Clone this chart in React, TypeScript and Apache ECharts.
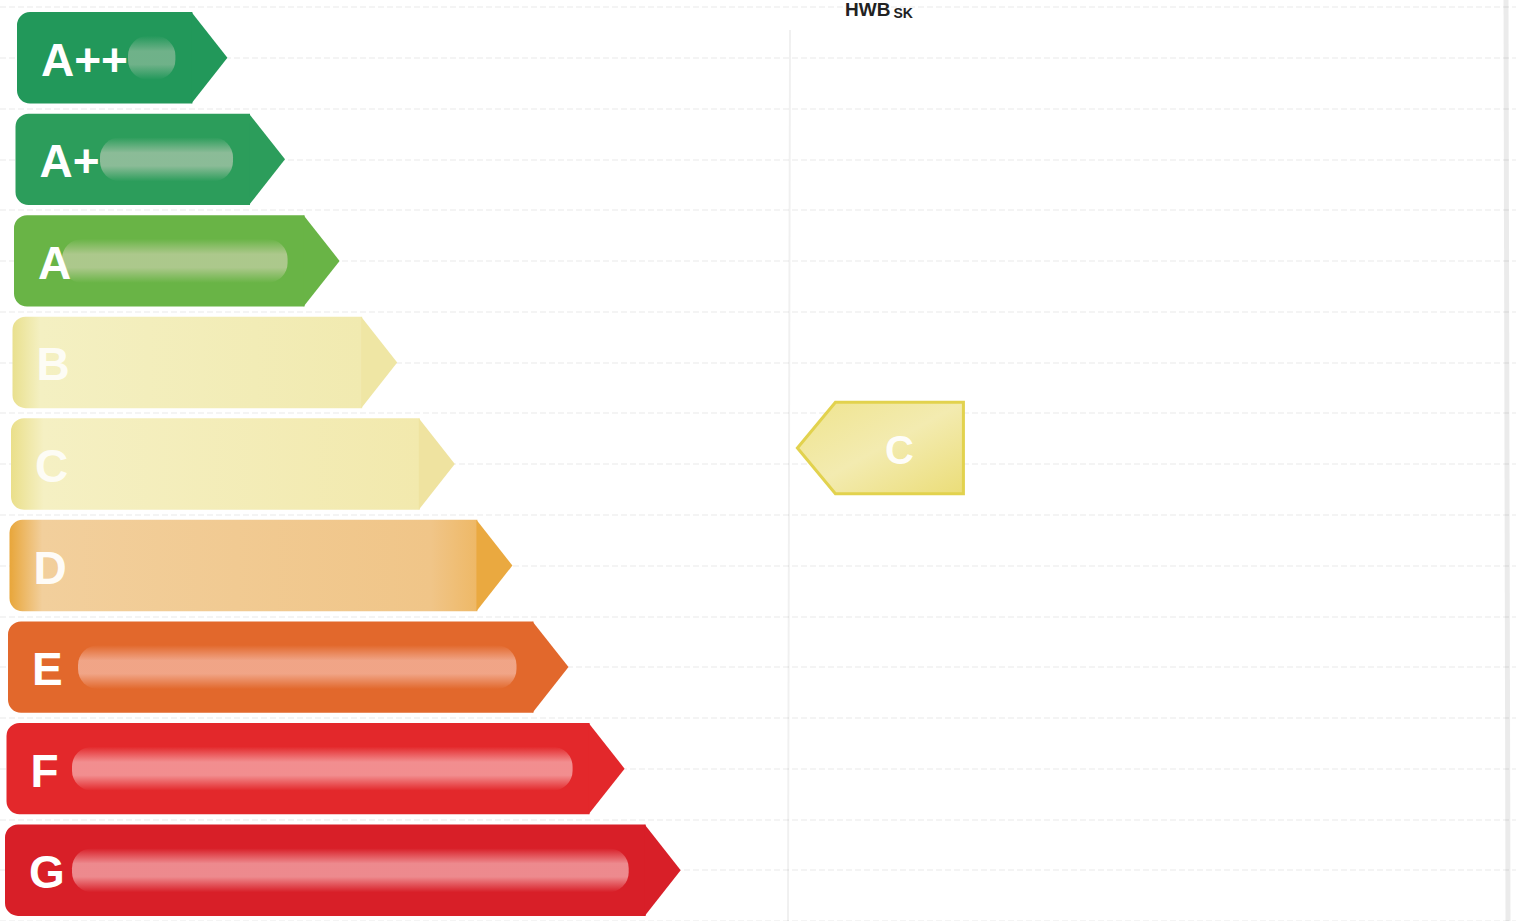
import React, { useEffect, useRef } from "react";
import * as echarts from "echarts";

// Energy classes (top to bottom) and the length of each class arrow (tip position, % of width)
const classes = ["A++", "A+", "A", "B", "C", "D", "E", "F", "G"];
const arrowEnds = [15.0, 18.8, 22.4, 26.2, 30.0, 33.8, 37.5, 41.2, 44.9];
// Rated class and position of the indicator arrow tip (% of width)
const ratedClass = "C";
const ratedTip = [52.6];
const titleMain = "HWB";
const titleSub = "SK";

export default function App() {
  const ref = useRef<HTMLDivElement>(null);

  useEffect(() => {
    document.body.style.margin = "0";
    if (!ref.current) return;
    const chart = echarts.init(ref.current, null, { renderer: "svg" });

    const fills: any[] = [
      "#22985a",
      "#2c9d5b",
      "#69b446",
      new echarts.graphic.LinearGradient(0, 0, 1, 0, [
        { offset: 0, color: "#e9e08e" },
        { offset: 0.08, color: "#f4f0c2" },
        { offset: 1, color: "#f1eab0" },
      ]),
      new echarts.graphic.LinearGradient(0, 0, 1, 0, [
        { offset: 0, color: "#eadf8a" },
        { offset: 0.08, color: "#f5f0c3" },
        { offset: 1, color: "#f2e9ad" },
      ]),
      new echarts.graphic.LinearGradient(0, 0, 1, 0, [
        { offset: 0, color: "#e8a63a" },
        { offset: 0.07, color: "#f2cf9c" },
        { offset: 0.9, color: "#f0c588" },
        { offset: 1, color: "#eeb866" },
      ]),
      "#e2682c",
      "#e3282b",
      "#d81f28",
    ];
    const tipFills = ["#22985a", "#2c9d5b", "#69b446", "#efe6a4", "#efe3a0", "#eaa940", "#e2682c", "#e3282b", "#d81f28"];
    const streakStart = [128, 100, 62, -1, -1, -1, 78, 72, 72];
    const streakAlpha = [0.35, 0.45, 0.45, 0, 0, 0, 0.5, 0.55, 0.55];
    const textAlpha = [1, 1, 1, 0.85, 0.85, 0.95, 1, 1, 1];

    const streakFill = (a: number) =>
      new echarts.graphic.LinearGradient(0, 0, 0, 1, [
        { offset: 0, color: "rgba(255,225,225,0)" },
        { offset: 0.35, color: `rgba(255,225,225,${a})` },
        { offset: 0.65, color: `rgba(255,225,225,${a})` },
        { offset: 1, color: "rgba(255,225,225,0)" },
      ]);

    const option: any = {
      animation: false,
      backgroundColor: "#ffffff",
      grid: { left: 0, right: 0, top: 7, height: 920, containLabel: false },
      xAxis: { type: "value", min: 0, max: 100, show: false },
      yAxis: [
        { type: "category", data: classes, inverse: true, show: false },
        {
          type: "value",
          min: 0,
          max: 18,
          interval: 1,
          axisLine: { show: false },
          axisTick: { show: false },
          axisLabel: { show: false },
          splitLine: { show: true, lineStyle: { color: "rgba(0,0,0,0.06)", type: "dashed", width: 1.5 } },
        },
      ],
      graphic: [
        {
          type: "line",
          shape: { x1: 790, y1: 30, x2: 788, y2: 921 },
          style: { stroke: "rgba(0,0,0,0.06)", lineWidth: 2 },
          z: 1,
        },
        {
          type: "line",
          shape: { x1: 1506, y1: 0, x2: 1508, y2: 921 },
          style: { stroke: "rgba(0,0,0,0.08)", lineWidth: 5 },
          z: 1,
        },
        {
          type: "text",
          x: 845,
          y: -2,
          style: {
            text: `{a|${titleMain}}{b|${titleSub}}`,
            rich: {
              a: { fontSize: 19, fontWeight: "bold", fontFamily: "Liberation Sans, Arial", fill: "#222" },
              b: { fontSize: 14, fontWeight: "bold", fontFamily: "Liberation Sans, Arial", fill: "#222", padding: [8, 0, 0, 3] },
            },
          },
          z: 10,
        },
      ],
      series: [
        {
          type: "custom",
          yAxisIndex: 0,
          data: arrowEnds.map((v, i) => [v, classes[i]]),
          renderItem: (params: any, api: any) => {
            const i = params.dataIndex;
            const tip = api.coord([api.value(0), api.value(1)]);
            const band = api.size([0, 1])[1];
            const h = band * 0.9;
            const cy = tip[1];
            const top = cy - h / 2;
            const bot = cy + h / 2;
            const left = 17 - i * 1.5;
            const depth = 36;
            const children: any[] = [
              {
                type: "rect",
                shape: { x: left, y: top, width: tip[0] - depth - left + 1, height: h, r: [13, 0, 0, 13] },
                style: { fill: fills[i] },
              },
              {
                type: "polygon",
                shape: { points: [[tip[0] - depth, top], [tip[0], cy], [tip[0] - depth, bot]] },
                style: { fill: tipFills[i] },
              },
            ];
            if (streakStart[i] > 0) {
              children.push({
                type: "rect",
                shape: { x: streakStart[i], y: cy - 22, width: tip[0] - 52 - streakStart[i], height: 44, r: 20 },
                style: { fill: streakFill(streakAlpha[i]) },
              });
            }
            children.push({
              type: "text",
              x: left + 24,
              y: cy + 2,
              style: {
                text: classes[i],
                fill: `rgba(255,255,255,${textAlpha[i]})`,
                fontSize: 46,
                fontWeight: "bold",
                fontFamily: "Liberation Sans, Arial",
                verticalAlign: "middle",
                align: "left",
              },
            });
            return { type: "group", children };
          },
          z: 5,
        },
        {
          type: "custom",
          yAxisIndex: 0,
          data: ratedTip.map((v) => [v, ratedClass]),
          renderItem: (params: any, api: any) => {
            const p = api.coord([api.value(0), api.value(1)]);
            const band = api.size([0, 1])[1];
            const h = band * 0.9;
            const cy = p[1] - 16;
            const top = cy - h / 2;
            const bot = cy + h / 2;
            const x0 = p[0];
            const w = 166;
            const depth = 38;
            return {
              type: "group",
              children: [
                {
                  type: "polygon",
                  shape: { points: [[x0, cy], [x0 + depth, top], [x0 + w, top], [x0 + w, bot], [x0 + depth, bot]] },
                  style: {
                    fill: new echarts.graphic.LinearGradient(0, 0, 1, 1, [
                      { offset: 0, color: "#efe48e" },
                      { offset: 0.5, color: "#f3ebb0" },
                      { offset: 1, color: "#ebdd78" },
                    ]),
                    stroke: "#e2d24e",
                    lineWidth: 3,
                  },
                },
                {
                  type: "text",
                  x: x0 + (depth + w) / 2,
                  y: cy + 2,
                  style: {
                    text: ratedClass,
                    fill: "rgba(255,255,255,0.95)",
                    fontSize: 40,
                    fontWeight: "bold",
                    fontFamily: "Liberation Sans, Arial",
                    align: "center",
                    verticalAlign: "middle",
                  },
                },
              ],
            };
          },
          z: 6,
        },
      ],
    };

    chart.setOption(option);
    return () => chart.dispose();
  }, []);

  return <div ref={ref} style={{ width: 1516, height: 921 }} />;
}
